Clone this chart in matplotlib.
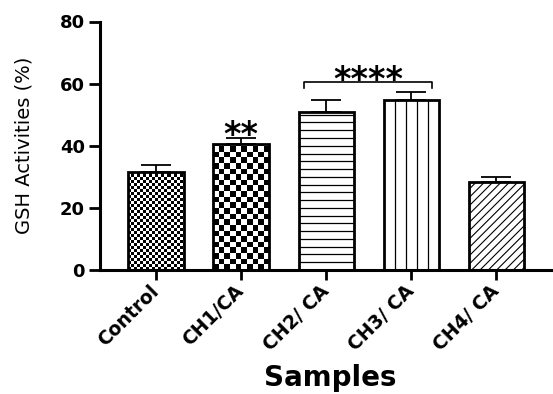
import numpy as np
import matplotlib
matplotlib.use('Agg')
import matplotlib.pyplot as plt

# data
samples = ['Control', 'CH1/CA', 'CH2/ CA', 'CH3/ CA', 'CH4/ CA']
gsh = [31.7, 40.6, 50.9, 54.6, 28.2]
gsh_err = [2.2, 1.8, 3.8, 2.7, 1.8]
yticks = [0, 20, 40, 60, 80]

# significance marks
sig_single = (1, 46.1, '**')
sig_bracket = (1.74, 3.24, 60.4, '****')

plt.rcParams['font.family'] = 'DejaVu Sans'
plt.rcParams['hatch.linewidth'] = 0.8

fig = plt.figure(figsize=(5.53, 3.94), dpi=100)
W, H = 553, 394
ax = fig.add_axes([100 / W, (H - 270) / H, 1 - 100 / W, (270 - 21.5) / H])

x = np.arange(len(samples))
bw = 0.65
xlim = (-0.658, 4.665)
ylim = (0, 80)

hatches = ['', '', '', '', '////']
bars = ax.bar(x, gsh, width=bw, color='white', edgecolor='black',
              linewidth=0, hatch=hatches, zorder=1)
ax.set_xlim(*xlim)
ax.set_ylim(*ylim)

# pixel size of a data unit
px_x = ax.bbox.width / (xlim[1] - xlim[0])
px_y = ax.bbox.height / (ylim[1] - ylim[0])


def checker(bar, cell_px):
    x0 = bar.get_x()
    w = bar.get_width()
    h = bar.get_height()
    cw = cell_px / px_x
    ch = cell_px / px_y
    nc = int(np.ceil(w / cw))
    nr = int(np.ceil(h / ch))
    arr = (np.add.outer(np.arange(nr), np.arange(nc)) % 2).astype(float)
    im = ax.imshow(arr, cmap='gray', vmin=0, vmax=1, origin='lower',
                   extent=(x0, x0 + nc * cw, 0, nr * ch), aspect='auto',
                   interpolation='nearest', zorder=2)
    im.set_clip_path(bar)


checker(bars[0], 3.0)
checker(bars[1], 5.6)

# horizontal lines for CH2
b = bars[2]
ys = np.arange(2.5, b.get_height(), 2.5)
ax.hlines(ys, b.get_x(), b.get_x() + b.get_width(), color='black',
          linewidth=0.9, zorder=2)
# vertical lines for CH3
b = bars[3]
xs = b.get_x() + b.get_width() * np.arange(1, 5) / 5
ax.vlines(xs, 0, b.get_height(), color='black', linewidth=0.9, zorder=2)

# outlines on top
ax.bar(x, gsh, width=bw, fill=False, edgecolor='black', linewidth=2.0,
       zorder=3)

ax.errorbar(x, gsh, yerr=[np.zeros(len(gsh)), gsh_err], fmt='none',
            ecolor='black', elinewidth=1.3, capsize=10.5, capthick=1.3,
            zorder=2.5)

# significance
ax.text(sig_single[0], sig_single[1] - 5.8, sig_single[2], ha='center',
        va='baseline', fontsize=24, fontweight='bold')
x1, x2, yb, lab = sig_bracket
ax.plot([x1, x1, x2, x2], [yb - 1.7, yb, yb, yb - 1.7], color='black',
        linewidth=1.2, clip_on=False)
ax.text((x1 + x2) / 2, 63.6 - 5.8, lab, ha='center', va='baseline',
        fontsize=24, fontweight='bold')

for s in ['top', 'right']:
    ax.spines[s].set_visible(False)
for s in ['left', 'bottom']:
    ax.spines[s].set_linewidth(2.2)

ax.set_yticks(yticks)
ax.set_xticks(x)
ax.set_xticklabels(samples, rotation=45, ha='right', va='center',
                   rotation_mode='anchor', fontsize=13.5, fontweight='bold')
ax.tick_params(axis='x', length=7, width=2, pad=6)
ax.tick_params(axis='y', length=8, width=2, pad=3, labelsize=13)
for t in ax.get_yticklabels():
    t.set_fontweight('bold')

ax.set_ylabel('GSH Activities (%)', fontsize=14)
ax.yaxis.set_label_coords(-(100 - 34) / (W - 100), 0.5)
fig.text(330 / W, (H - 386) / H, 'Samples', ha='center', va='baseline',
         fontsize=20, fontweight='bold')

fig.savefig('out.png', dpi=100)
